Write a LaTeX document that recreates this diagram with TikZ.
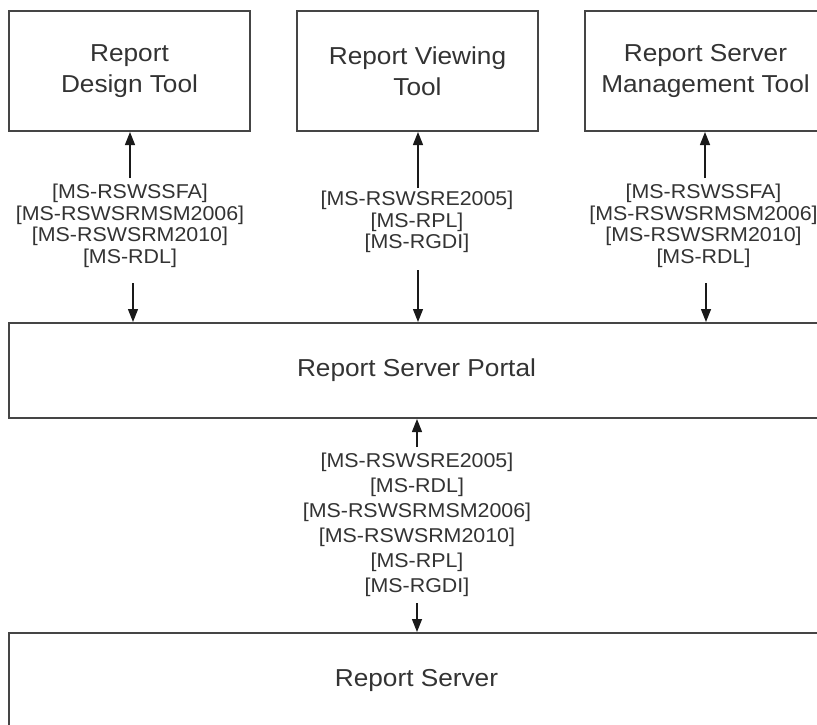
\documentclass[tikz,border=0pt]{standalone}
\usepackage{fontspec}
\setmainfont{Liberation Sans}
\newfontfamily\titlefont[FakeStretch=1.07]{Liberation Sans}
\newfontfamily\labfont[FakeStretch=1.07]{Liberation Sans}
\usetikzlibrary{arrows.meta}
\definecolor{linec}{HTML}{454545}
\definecolor{textc}{HTML}{333333}
\definecolor{arrc}{HTML}{1A1A1A}
\tikzset{
  box/.style={draw=linec, line width=2pt, rectangle, inner sep=0pt, align=center,
    text=textc, font=\titlefont\fontsize{24.5}{31.5}\selectfont},
  lab/.style={inner sep=0pt, align=center, text=textc,
    font=\labfont\fontsize{20}{21.6}\selectfont},
  conn/.style={draw=arrc, line width=1.4pt, -{Triangle[length=13pt,width=10pt]}},
}
\begin{document}
\begin{tikzpicture}[x=1pt,y=-1pt]
\useasboundingbox[fill=white] (0,0) rectangle (817,725);

% boxes
\node[box, minimum width=241pt, minimum height=120pt] (A) at (129.5,71) {Report\\Design Tool};
\node[box, minimum width=241pt, minimum height=120pt] (B) at (417.5,71) {Report Viewing\\Tool};
\node[box, minimum width=241pt, minimum height=120pt] (C) at (705.5,71) {Report Server\\Management Tool};
\node[box, minimum width=815pt, minimum height=95pt] (P) at (416.5,370.5) {Report Server Portal};
\node[box, minimum width=815pt, minimum height=95pt] (S) at (416.5,680.5) {Report Server};

% labels
\node[lab] (L1) at (130,226) {{[}MS-RSWSSFA{]}\\{[}MS-RSWSRMSM2006{]}\\{[}MS-RSWSRM2010{]}\\{[}MS-RDL{]}};
\node[lab] (L2) at (417,222) {{[}MS-RSWSRE2005{]}\\{[}MS-RPL{]}\\{[}MS-RGDI{]}};
\node[lab] (L3) at (703.5,226) {{[}MS-RSWSSFA{]}\\{[}MS-RSWSRMSM2006{]}\\{[}MS-RSWSRM2010{]}\\{[}MS-RDL{]}};
\node[lab, font=\labfont\fontsize{20}{25}\selectfont] (L4) at (417,525) {{[}MS-RSWSRE2005{]}\\{[}MS-RDL{]}\\{[}MS-RSWSRMSM2006{]}\\{[}MS-RSWSRM2010{]}\\{[}MS-RPL{]}\\{[}MS-RGDI{]}};

% arrow start points
\coordinate (a1) at (130,178);
\coordinate (a2) at (133,283);
\coordinate (b1) at (418,188);
\coordinate (b2) at (418,270);
\coordinate (c1) at (705,178);
\coordinate (c2) at (706,283);
\coordinate (d1) at (417,447);
\coordinate (d2) at (417,603);

\draw[conn] (a1) -- (a1 |- A.south);
\draw[conn] (a2) -- (a2 |- P.north);
\draw[conn] (b1) -- (b1 |- B.south);
\draw[conn] (b2) -- (b2 |- P.north);
\draw[conn] (c1) -- (c1 |- C.south);
\draw[conn] (c2) -- (c2 |- P.north);
\draw[conn] (d1) -- (d1 |- P.south);
\draw[conn] (d2) -- (d2 |- S.north);
\end{tikzpicture}
\end{document}
